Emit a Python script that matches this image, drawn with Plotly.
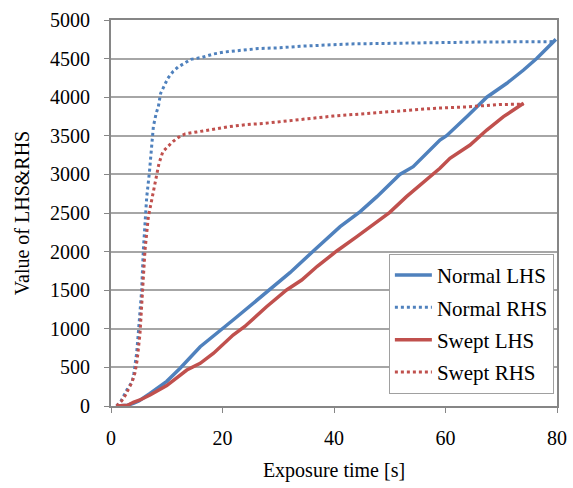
import plotly.graph_objects as go

# Normal LHS (blue solid)
normal_lhs_t = [1, 2, 3, 4, 5, 7, 10, 12.4, 16, 21.9, 28.5, 32.1, 36.3, 41.1, 44.7, 47.7,
                51.8, 54.2, 59, 60.2, 64, 67.4, 71, 74, 76.4, 79.8]
normal_lhs_v = [0, 5, 10, 35, 65, 164, 320, 490, 768, 1114, 1503, 1727, 2008, 2323, 2518, 2712,
                3000, 3100, 3445, 3501, 3760, 4000, 4180, 4352, 4504, 4750]

# Normal RHS (blue dotted)
normal_rhs_t = [1, 1.8, 3.0, 3.8, 4.1, 4.4, 4.6, 4.9, 5.5, 5.8, 6.1, 6.4, 6.9, 7.3, 7.6, 8.1,
                8.5, 8.9, 9.7, 10.2, 11.1, 12.1, 13.3, 14.3, 16.3, 18.4, 20.3, 22.2, 24.3, 26.4,
                30.3, 33.9, 42.9, 51.8, 66.7, 79.3]
normal_rhs_v = [0, 65, 230, 310, 425, 555, 685, 945, 1500, 2020, 2450, 2700, 3035, 3360, 3620, 3790,
                3880, 4050, 4165, 4245, 4330, 4395, 4445, 4490, 4515, 4560, 4585, 4600, 4610, 4630,
                4640, 4660, 4690, 4700, 4715, 4720]

# Swept LHS (red solid)
swept_lhs_t = [1, 2, 3, 4, 5.2, 7, 10, 13.6, 16, 18.4, 21.9, 24.0, 27.9, 31.5, 34.2, 37, 40.5,
               44.1, 47, 50, 53, 56, 59, 60.8, 64.4, 67.4, 70.4, 74]
swept_lhs_v = [0, 5, 10, 48, 78, 142, 265, 466, 553, 683, 920, 1030, 1286, 1503, 1632, 1810, 2008,
               2194, 2350, 2509, 2712, 2890, 3079, 3209, 3381, 3575, 3748, 3921]

# Swept RHS (red dotted)
swept_rhs_t = [1, 1.9, 2.6, 3.2, 3.8, 4.3, 4.7, 5.2, 5.6, 6.1, 6.7, 7.3, 7.7, 8.2, 8.6, 9.3, 10.2,
               11.1, 12.1, 13.3, 15.4, 17.2, 19.2, 21.3, 24.3, 27.3, 30.3, 33.9, 39.8, 45.9, 51.8,
               57.8, 63.8, 69.8, 74.0]
swept_rhs_v = [0, 65, 142, 230, 315, 430, 600, 940, 1500, 2020, 2450, 2670, 2820, 3010, 3140, 3295,
               3360, 3425, 3480, 3525, 3550, 3575, 3595, 3620, 3645, 3660, 3680, 3710, 3755, 3790,
               3820, 3855, 3875, 3905, 3910]

BLUE = "#4F81BD"
RED = "#C0504D"
FONT = "Liberation Serif"

fig = go.Figure()
fig.add_trace(go.Scatter(x=normal_lhs_t, y=normal_lhs_v, mode="lines", name="Normal LHS",
                         legendgroup="a", line=dict(color=BLUE, width=3.5)))
fig.add_trace(go.Scatter(x=normal_rhs_t, y=normal_rhs_v, mode="lines", name="Normal RHS",
                         legendgroup="b", line=dict(color=BLUE, width=3, dash="dot")))
fig.add_trace(go.Scatter(x=swept_lhs_t, y=swept_lhs_v, mode="lines", name="Swept LHS",
                         legendgroup="c", line=dict(color=RED, width=3.5)))
fig.add_trace(go.Scatter(x=swept_rhs_t, y=swept_rhs_v, mode="lines", name="Swept RHS",
                         legendgroup="d", line=dict(color=RED, width=3, dash="dot")))

fig.update_layout(
    width=573, height=488,
    margin=dict(l=111, r=16, t=20, b=82),
    paper_bgcolor="white", plot_bgcolor="white",
    font=dict(family=FONT, size=20, color="black"),
    showlegend=True,
    legend=dict(x=0.993, xanchor="right", y=0.394, yanchor="top",
                bgcolor="white", bordercolor="#A0A0A0", borderwidth=1,
                font=dict(family=FONT, size=21), tracegroupgap=2,
                itemwidth=37),
    xaxis=dict(range=[0, 80], dtick=20, tick0=0, showgrid=False, automargin=False,
               showline=True, linecolor="#868686", linewidth=2, mirror=True,
               ticks="outside", ticklen=5, tickcolor="#868686",
               ticklabelstandoff=8,
               title=dict(text="Exposure time [s]", font=dict(size=20), standoff=15),
               zeroline=False),
    yaxis=dict(range=[0, 5000], dtick=500, tick0=0, showgrid=True, automargin=False,
               gridcolor="#A6A6A6", gridwidth=1.5,
               showline=True, linecolor="#868686", linewidth=2, mirror=True,
               ticks="outside", ticklen=5, tickcolor="#868686",
               ticklabelstandoff=10,
               title=dict(text="Value of LHS&RHS", font=dict(size=20), standoff=15),
               zeroline=False),
)

fig.write_html("out.html")
